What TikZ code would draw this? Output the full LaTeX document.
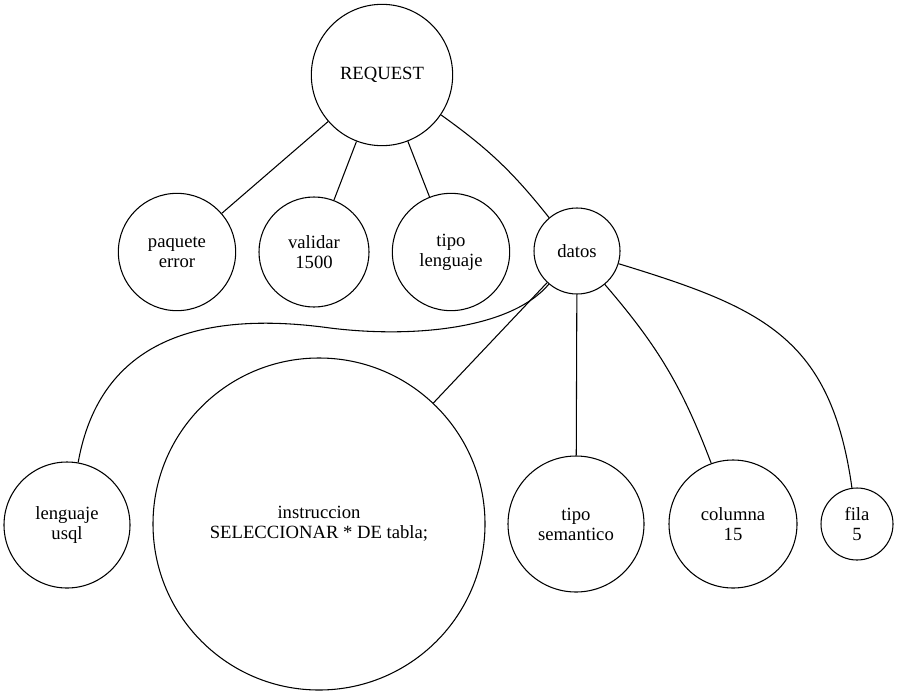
\documentclass[tikz,border=0pt]{standalone}
\usepackage{fontspec}
\setmainfont{Liberation Serif}
\usepackage{tikz}
\usetikzlibrary{shapes,arrows,positioning}

\begin{document}
\begin{tikzpicture}[x=0.75pt, y=0.75pt]
		\tikzstyle{Vertex} 	= [circle, draw, line width=0.8pt, fill=white, inner sep=0pt, align=center, font=\fontsize{14}{15}\selectfont]
		\tikzstyle{Edge}	= [line width=0.8pt, black]

		\useasboundingbox (0,0) rectangle (898,-696);

		\node (req) at (382,-75) [Vertex, minimum size=106pt] {REQUEST};
		\node (paq) at (177,-252) [Vertex, minimum size=88pt] {paquete\\ error};
		\node (val) at (314,-252) [Vertex, minimum size=82.5pt] {validar\\ 1500};
		\node (tip) at (451,-252) [Vertex, minimum size=88pt] {tipo\\ lenguaje};
		\node (dat) at (577,-251) [Vertex, minimum size=64.5pt] {datos};
		\node (len) at (67,-525) [Vertex, minimum size=94.5pt] {lenguaje\\ usql};
		\node (ins) at (319,-524) [Vertex, minimum size=249pt] {instruccion\\ SELECCIONAR * DE tabla;};
		\node (sem) at (576,-524) [Vertex, minimum size=102pt] {tipo\\ semantico};
		\node (col) at (733,-524) [Vertex, minimum size=96pt] {columna\\ 15};
		\node (fil) at (857,-524) [Vertex, minimum size=54pt] {fila\\ 5};

		\draw [-] (req) to (paq) [Edge];
		\draw [-] (req) to (val) [Edge];
		\draw [-] (req) to (tip) [Edge];
		\draw [-] (req) to [bend left=8] (dat) [Edge];

		\draw [-] (dat) .. controls (510,-330) and (410,-338) .. (330,-328)
			.. controls (200,-310) and (100,-340) .. (len) [Edge];
		\draw [-] (dat) to (ins) [Edge];
		\draw [-] (dat) to (sem) [Edge];
		\draw [-] (dat) to [bend left=10] (col) [Edge];
		\draw [-] (dat) to [out=-17, in=98, looseness=1.2] (fil) [Edge];
	\end{tikzpicture}
\end{document}
